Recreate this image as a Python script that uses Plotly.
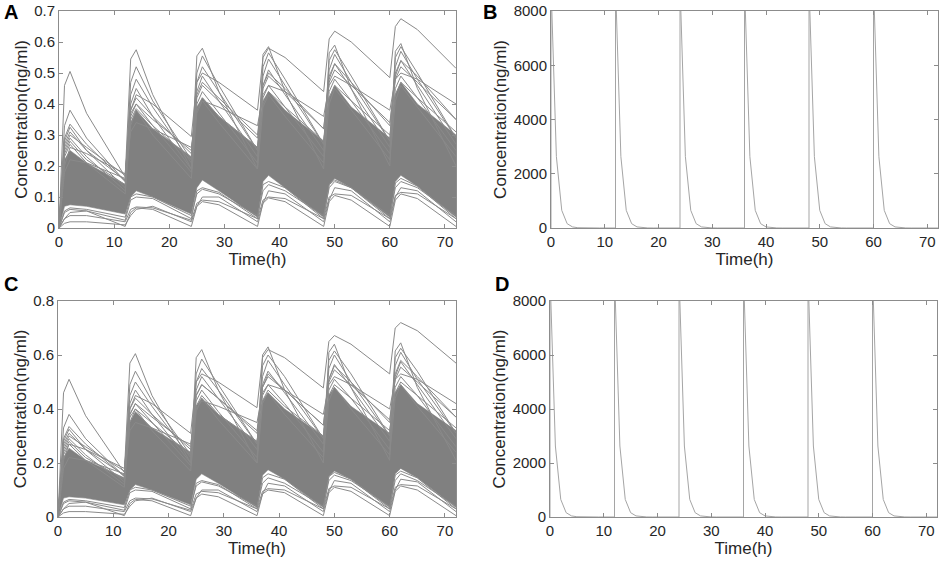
import plotly.graph_objects as go
from plotly.subplots import make_subplots

# sample times (h) shared by the simulated curves of panels A and C
t_samp = [0, 1, 2, 5, 12, 13, 14, 17, 24, 25, 26, 29, 36, 37, 38, 41, 48, 49, 50, 53, 60, 61, 62, 65, 72]

# ---- panel A : dense core of the simulated profiles (upper / lower edge)
a_core_up = [0, 0.22, 0.25, 0.21, 0.14, 0.34, 0.38, 0.32, 0.23, 0.39, 0.42, 0.36, 0.26,
             0.41, 0.44, 0.38, 0.28, 0.42, 0.46, 0.39, 0.29, 0.43, 0.47, 0.40, 0.30]
a_core_lo = [0, 0.07, 0.075, 0.07, 0.045, 0.10, 0.12, 0.10, 0.045, 0.13, 0.155, 0.12, 0.035,
             0.15, 0.17, 0.13, 0.035, 0.14, 0.16, 0.13, 0.035, 0.15, 0.17, 0.135, 0.035]
# panel A : individual profiles outside the core
a_curves = [
    [0, 0.20, 0.26, 0.24, 0.175, 0.38, 0.43, 0.40, 0.295, 0.47, 0.50, 0.47, 0.38, 0.55, 0.58, 0.55, 0.44, 0.61, 0.635, 0.60, 0.485, 0.65, 0.675, 0.64, 0.515],
    [0, 0.46, 0.505, 0.37, 0.165, 0.545, 0.575, 0.43, 0.19, 0.555, 0.58, 0.44, 0.19, 0.56, 0.585, 0.44, 0.19, 0.565, 0.59, 0.45, 0.20, 0.57, 0.595, 0.45, 0.20],
    [0, 0.33, 0.38, 0.29, 0.15, 0.47, 0.52, 0.41, 0.22, 0.50, 0.555, 0.46, 0.25, 0.52, 0.565, 0.48, 0.27, 0.54, 0.575, 0.49, 0.28, 0.55, 0.585, 0.50, 0.29],
    [0, 0.29, 0.335, 0.27, 0.15, 0.43, 0.48, 0.39, 0.21, 0.47, 0.52, 0.44, 0.25, 0.49, 0.545, 0.46, 0.27, 0.51, 0.56, 0.47, 0.28, 0.52, 0.57, 0.48, 0.29],
    [0, 0.28, 0.325, 0.25, 0.13, 0.40, 0.45, 0.36, 0.19, 0.44, 0.49, 0.41, 0.23, 0.46, 0.51, 0.43, 0.25, 0.48, 0.53, 0.45, 0.26, 0.49, 0.54, 0.46, 0.27],
    [0, 0.27, 0.31, 0.25, 0.155, 0.38, 0.42, 0.36, 0.24, 0.42, 0.46, 0.41, 0.29, 0.45, 0.49, 0.44, 0.32, 0.47, 0.51, 0.46, 0.34, 0.48, 0.52, 0.47, 0.35],
    [0, 0.25, 0.29, 0.23, 0.12, 0.36, 0.40, 0.33, 0.18, 0.40, 0.44, 0.37, 0.21, 0.42, 0.46, 0.39, 0.23, 0.44, 0.48, 0.41, 0.24, 0.45, 0.49, 0.42, 0.25],
    [0, 0.24, 0.28, 0.22, 0.14, 0.35, 0.385, 0.33, 0.22, 0.38, 0.42, 0.36, 0.26, 0.40, 0.44, 0.39, 0.28, 0.42, 0.46, 0.41, 0.30, 0.43, 0.47, 0.42, 0.31],
    [0, 0.23, 0.27, 0.21, 0.11, 0.33, 0.38, 0.30, 0.16, 0.37, 0.41, 0.34, 0.19, 0.39, 0.43, 0.36, 0.21, 0.40, 0.45, 0.38, 0.22, 0.41, 0.46, 0.39, 0.23],
    [0, 0.18, 0.22, 0.21, 0.16, 0.31, 0.34, 0.32, 0.26, 0.38, 0.41, 0.39, 0.33, 0.43, 0.46, 0.44, 0.36, 0.46, 0.49, 0.46, 0.38, 0.48, 0.50, 0.48, 0.40],
    [0, 0.26, 0.30, 0.26, 0.17, 0.37, 0.40, 0.35, 0.25, 0.43, 0.47, 0.42, 0.30, 0.46, 0.50, 0.45, 0.32, 0.49, 0.53, 0.47, 0.33, 0.50, 0.54, 0.49, 0.35],
    [0, 0.03, 0.05, 0.055, 0.005, 0.05, 0.065, 0.06, 0.005, 0.07, 0.085, 0.075, 0.005, 0.08, 0.097, 0.085, 0.005, 0.085, 0.105, 0.09, 0.005, 0.09, 0.11, 0.095, 0.005],
    [0, 0.03, 0.04, 0.04, 0.02, 0.06, 0.068, 0.065, 0.025, 0.08, 0.09, 0.085, 0.03, 0.09, 0.10, 0.095, 0.03, 0.10, 0.11, 0.105, 0.03, 0.105, 0.115, 0.11, 0.03],
    [0, 0.05, 0.06, 0.055, 0.025, 0.09, 0.10, 0.095, 0.03, 0.12, 0.13, 0.115, 0.03, 0.14, 0.15, 0.13, 0.03, 0.14, 0.155, 0.13, 0.03, 0.145, 0.16, 0.135, 0.03],
    [0, 0.055, 0.065, 0.06, 0.035, 0.10, 0.11, 0.10, 0.04, 0.11, 0.125, 0.11, 0.04, 0.12, 0.14, 0.12, 0.04, 0.13, 0.15, 0.13, 0.04, 0.13, 0.15, 0.13, 0.04],
    [0, 0.015, 0.02, 0.02, 0.01, 0.04, 0.06, 0.07, 0.02, 0.07, 0.10, 0.10, 0.02, 0.08, 0.12, 0.11, 0.02, 0.09, 0.13, 0.12, 0.02, 0.10, 0.13, 0.12, 0.02],
]

# ---- panel C
c_core_up = [0, 0.22, 0.255, 0.21, 0.145, 0.35, 0.39, 0.33, 0.24, 0.41, 0.44, 0.38, 0.28,
             0.43, 0.46, 0.40, 0.30, 0.45, 0.48, 0.41, 0.31, 0.46, 0.49, 0.42, 0.32]
c_core_lo = [0, 0.07, 0.075, 0.07, 0.045, 0.10, 0.12, 0.10, 0.045, 0.14, 0.16, 0.125, 0.035,
             0.155, 0.175, 0.14, 0.035, 0.15, 0.17, 0.14, 0.035, 0.16, 0.18, 0.145, 0.035]
c_curves = [
    [0, 0.21, 0.27, 0.25, 0.18, 0.40, 0.45, 0.42, 0.31, 0.50, 0.53, 0.50, 0.405, 0.59, 0.62, 0.59, 0.478, 0.65, 0.672, 0.64, 0.53, 0.70, 0.72, 0.69, 0.57],
    [0, 0.46, 0.51, 0.375, 0.165, 0.57, 0.605, 0.45, 0.20, 0.59, 0.62, 0.47, 0.20, 0.60, 0.63, 0.47, 0.20, 0.61, 0.64, 0.48, 0.21, 0.615, 0.645, 0.48, 0.21],
    [0, 0.33, 0.38, 0.29, 0.15, 0.49, 0.54, 0.43, 0.23, 0.53, 0.585, 0.49, 0.27, 0.56, 0.60, 0.52, 0.29, 0.58, 0.615, 0.53, 0.30, 0.59, 0.625, 0.54, 0.31],
    [0, 0.29, 0.335, 0.27, 0.15, 0.45, 0.50, 0.41, 0.22, 0.50, 0.55, 0.47, 0.27, 0.52, 0.58, 0.49, 0.29, 0.55, 0.60, 0.50, 0.30, 0.56, 0.61, 0.51, 0.31],
    [0, 0.28, 0.325, 0.25, 0.13, 0.42, 0.47, 0.38, 0.20, 0.47, 0.52, 0.44, 0.25, 0.49, 0.54, 0.46, 0.27, 0.51, 0.565, 0.48, 0.28, 0.52, 0.575, 0.49, 0.29],
    [0, 0.27, 0.31, 0.25, 0.155, 0.40, 0.44, 0.38, 0.25, 0.45, 0.49, 0.44, 0.31, 0.48, 0.52, 0.47, 0.34, 0.50, 0.545, 0.49, 0.36, 0.51, 0.555, 0.50, 0.37],
    [0, 0.25, 0.29, 0.23, 0.12, 0.38, 0.42, 0.35, 0.19, 0.43, 0.47, 0.39, 0.22, 0.45, 0.49, 0.42, 0.24, 0.47, 0.51, 0.44, 0.25, 0.48, 0.52, 0.45, 0.26],
    [0, 0.24, 0.28, 0.22, 0.14, 0.37, 0.40, 0.35, 0.23, 0.41, 0.45, 0.38, 0.28, 0.43, 0.47, 0.41, 0.30, 0.45, 0.49, 0.44, 0.32, 0.46, 0.50, 0.45, 0.33],
    [0, 0.23, 0.27, 0.21, 0.11, 0.35, 0.40, 0.32, 0.17, 0.39, 0.44, 0.36, 0.20, 0.42, 0.46, 0.38, 0.22, 0.43, 0.48, 0.40, 0.23, 0.44, 0.49, 0.41, 0.24],
    [0, 0.18, 0.22, 0.21, 0.16, 0.32, 0.35, 0.33, 0.27, 0.40, 0.43, 0.41, 0.35, 0.46, 0.49, 0.47, 0.38, 0.49, 0.52, 0.49, 0.40, 0.51, 0.53, 0.51, 0.42],
    [0, 0.26, 0.30, 0.26, 0.17, 0.38, 0.42, 0.37, 0.26, 0.45, 0.49, 0.44, 0.32, 0.48, 0.53, 0.47, 0.34, 0.51, 0.56, 0.50, 0.35, 0.53, 0.58, 0.52, 0.37],
    [0, 0.03, 0.05, 0.055, 0.005, 0.05, 0.065, 0.06, 0.005, 0.07, 0.085, 0.075, 0.005, 0.085, 0.10, 0.09, 0.005, 0.09, 0.11, 0.095, 0.005, 0.095, 0.115, 0.10, 0.005],
    [0, 0.03, 0.04, 0.04, 0.02, 0.06, 0.07, 0.067, 0.025, 0.085, 0.095, 0.09, 0.03, 0.095, 0.105, 0.10, 0.03, 0.105, 0.115, 0.11, 0.03, 0.11, 0.12, 0.115, 0.03],
    [0, 0.05, 0.06, 0.055, 0.025, 0.09, 0.10, 0.095, 0.03, 0.125, 0.135, 0.12, 0.03, 0.145, 0.16, 0.14, 0.03, 0.15, 0.165, 0.14, 0.03, 0.155, 0.17, 0.145, 0.03],
    [0, 0.055, 0.065, 0.06, 0.035, 0.10, 0.11, 0.10, 0.04, 0.115, 0.13, 0.115, 0.04, 0.125, 0.145, 0.125, 0.04, 0.135, 0.155, 0.135, 0.04, 0.135, 0.16, 0.135, 0.04],
    [0, 0.015, 0.02, 0.02, 0.01, 0.04, 0.06, 0.07, 0.02, 0.07, 0.10, 0.10, 0.02, 0.085, 0.125, 0.115, 0.02, 0.095, 0.135, 0.125, 0.02, 0.10, 0.14, 0.13, 0.02],
]

# ---- panels B and D : one dosing interval repeated at each dose
# offsets (h) after each dose and the concentration at them (the dose is an instant jump)
dose_times = [0, 12, 24, 36, 48, 60]
interval_t = [0, 0, 1, 2, 3, 4, 5, 6, 7, 8, 9, 10, 11]
b_profile = [0, 9000, 2630, 650, 160, 40, 10, 2, 0, 0, 0, 0, 0]
d_profile = [0, 9000, 2630, 650, 160, 40, 10, 2, 0, 0, 0, 0, 0]

GREY = "rgb(128,128,128)"
LIGHT = "rgb(165,165,165)"
AXC = "rgb(140,140,140)"
FONT = "Liberation Sans, Arial, sans-serif"


def add_band(fig, up, lo, row, col):
    fig.add_trace(go.Scatter(x=t_samp, y=lo, mode="lines", line=dict(color=GREY, width=0.6),
                             showlegend=False, hoverinfo="skip"), row=row, col=col)
    fig.add_trace(go.Scatter(x=t_samp, y=up, mode="lines", line=dict(color=GREY, width=0.6),
                             fill="tonexty", fillcolor=GREY, showlegend=False, hoverinfo="skip"),
                  row=row, col=col)


def add_curves(fig, curves, row, col):
    for c in curves:
        fig.add_trace(go.Scatter(x=t_samp, y=c, mode="lines", line=dict(color="rgb(138,138,138)", width=1),
                                 showlegend=False, hoverinfo="skip"), row=row, col=col)


def dose_series(profile):
    xs, ys = [], []
    for s in dose_times:
        for dt, v in zip(interval_t, profile):
            xs.append(s + dt)
            ys.append(v)
    xs.append(72)
    ys.append(profile[-1])
    return xs, ys


fig = make_subplots(rows=2, cols=2)
add_band(fig, a_core_up, a_core_lo, 1, 1)
add_curves(fig, a_curves, 1, 1)
add_band(fig, c_core_up, c_core_lo, 2, 1)
add_curves(fig, c_curves, 2, 1)

bx, by = dose_series(b_profile)
fig.add_trace(go.Scatter(x=bx, y=by, mode="lines", line=dict(color=LIGHT, width=1),
                         showlegend=False, hoverinfo="skip"), row=1, col=2)
dx, dy = dose_series(d_profile)
fig.add_trace(go.Scatter(x=dx, y=dy, mode="lines", line=dict(color=LIGHT, width=1),
                         showlegend=False, hoverinfo="skip"), row=2, col=2)

W, H = 941, 562
ax_common = dict(showline=True, linecolor=AXC, linewidth=1, mirror="ticks", ticks="inside",
                 ticklen=4, tickcolor=AXC, showgrid=False, zeroline=False, automargin=False,
                 tickfont=dict(family=FONT, size=15, color="#262626"))
xt = dict(text="Time(h)", font=dict(family=FONT, size=17, color="#262626"), standoff=0)
yt = dict(text="Concentration(ng/ml)", font=dict(family=FONT, size=17, color="#262626"), standoff=2)

# pixel boxes of the four panels: (left, right, top, bottom)
boxes = {1: (59, 456, 11, 228), 2: (551, 938, 11, 228), 3: (58, 456, 301, 517), 4: (550, 937, 301, 517)}
yranges = {1: [0, 0.7], 2: [0, 8000], 3: [0, 0.8], 4: [0, 8000]}
ydticks = {1: 0.1, 2: 2000, 3: 0.2, 4: 2000}
for k in range(1, 5):
    l, r, t, b = boxes[k]
    sx = "" if k == 1 else str(k)
    fig.layout["xaxis" + sx].update(domain=[l / W, r / W], range=[0, 72], dtick=10, tick0=0,
                                    title=xt, **ax_common)
    fig.layout["yaxis" + sx].update(domain=[1 - b / H, 1 - t / H], range=yranges[k], dtick=ydticks[k],
                                    tick0=0, title=yt, **ax_common)

letters = [("A", 11, 12), ("B", 490, 12), ("C", 11, 284), ("D", 502, 284)]
for txt, px, py in letters:
    fig.add_annotation(text="<b>" + txt + "</b>", x=px / W, y=1 - py / H, xref="paper", yref="paper",
                       showarrow=False, xanchor="center", yanchor="middle",
                       font=dict(family=FONT, size=20, color="black"))

fig.update_layout(width=W, height=H, margin=dict(l=0, r=0, t=0, b=0),
                  plot_bgcolor="white", paper_bgcolor="white")
# drop the page's default 8px body margin so the figure fills the window; no modebar
fig.write_html("out.html", config={"displayModeBar": False},
               post_script="document.body.style.margin = '0px';")
